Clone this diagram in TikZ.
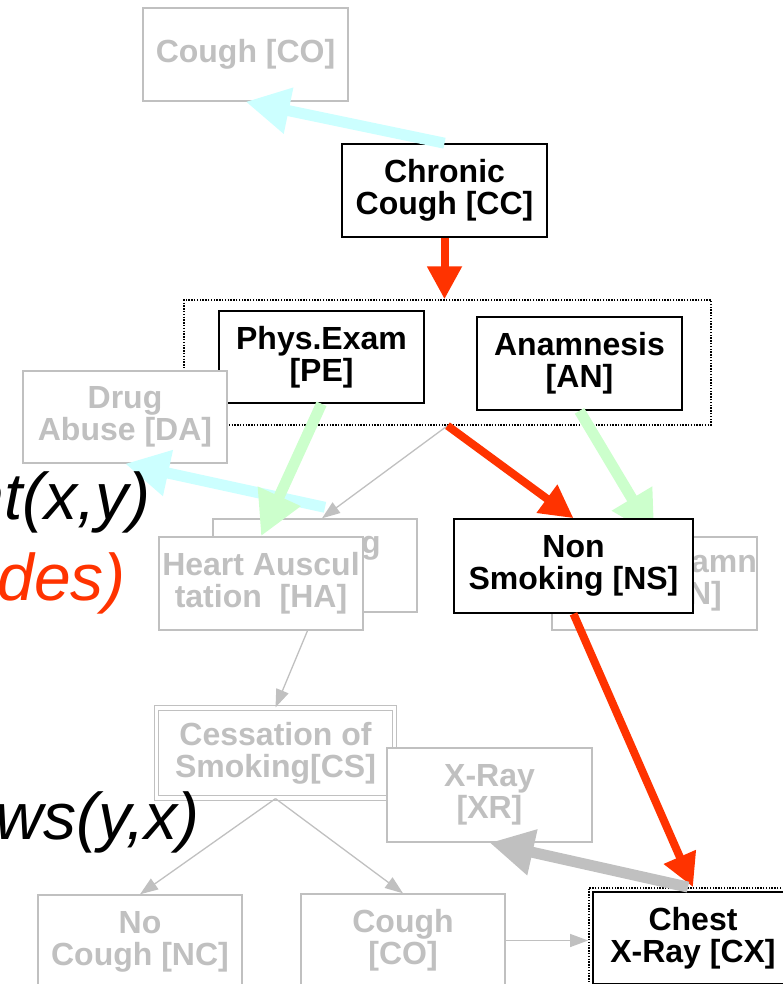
\documentclass[tikz,border=0pt]{standalone}
\usepackage{fontspec}
\setmainfont{Liberation Sans}
\usetikzlibrary{arrows,arrows.meta}
\usetikzlibrary{fit}
\definecolor{fadegray}{HTML}{C0C0C0}
\definecolor{pathred}{HTML}{FF3300}
\definecolor{palecyan}{HTML}{CCFFFF}
\definecolor{palegreen}{HTML}{CCFFCC}
\tikzset{
    nodebox/.style={rectangle, fill=white, inner sep=0pt, align=center,
        minimum width=205pt, minimum height=93pt,
        font=\bfseries\fontsize{32}{32}\selectfont},
    offbox/.style={nodebox, draw=fadegray, text=fadegray, line width=1.4pt},
    onbox/.style={nodebox, draw=black, text=black, line width=1.6pt},
    groupbox/.style={draw=black, line width=1.4pt, dash pattern=on 1.4pt off 1.4pt},
    faint/.style={draw=fadegray, line width=1.3pt, -{Triangle[length=18pt,width=13pt]}},
    fatarrow/.style={draw=#1, line width=11pt, -{Triangle[length=44pt,width=44pt]}},
    redarrow/.style={draw=pathred, line width=8pt, -{Triangle[length=33pt,width=33pt]}},
    remark/.style={inner sep=0pt, anchor=base east, font=\itshape\fontsize{66}{66}\selectfont}
}

\begin{document}
\begin{tikzpicture}[x=1pt, y=-1pt]
    \useasboundingbox (0,0) rectangle (783,984);
    \clip (0,0) rectangle (783,984);
    % group of the two tests
    \node[groupbox, minimum width=527pt, minimum height=125pt] (grp) at (447.5,362.5) {};
    \node[offbox] (co1) at (245.5,54.5) {Cough [CO]};
    \node[onbox] (cc) at (444.5,190.5) {Chronic\\Cough [CC]};
    \node[onbox, minimum height=92pt] (pe) at (321.5,357) {Phys.Exam\\{[PE]}};
    \node[onbox] (an) at (579.5,363.5) {Anamnesis\\{[AN]}};
    \node[offbox, minimum width=204pt, minimum height=92pt] (da) at (125,417) {Drug\\Abuse [DA]};
    % boxes lying behind others
    \node[offbox, minimum width=204pt] (hsm) at (315,565.5) {\hspace*{112pt}g\\\strut};
    \node[offbox] (han) at (654.5,583.5) {\hspace*{139pt}amn\\\hspace*{101pt}N]};
    \node[offbox, double, double distance=3.5pt, line width=1.2pt,
        minimum width=238pt, minimum height=90pt] (cs) at (275.5,753) {Cessation of\\Smoking[CS]};
    \node[offbox, minimum height=94pt] (xr) at (489.5,795) {X-Ray\\{[XR]}};
    \node[offbox, minimum width=204pt] (nc) at (140,941.5) {No\\Cough [NC]};
    \node[offbox, minimum width=204pt] (co2) at (403,940.5) {Cough\\{[CO]}};
    \node[onbox, line width=2.4pt, minimum width=200pt, minimum height=92pt] (cx) at (693,938) {Chest\\X-Ray [CX]};
    \node[groupbox, fit=(cx), inner sep=3pt] (cxf) {};

    \draw[fatarrow=palecyan] (cc.north) -- (co1.south);
    \draw[fatarrow=palecyan] ([shift={(10,-11)}]hsm.north) -- (da.south);
    \draw[faint] (grp.south) -- ([xshift=7pt]hsm.north);
    \draw[faint] (hsm.south) -- (cs.north);
    \node[offbox, minimum width=204pt] (ha) at (261,583.5) {Heart Auscul\\tation~ [HA]};
    \draw[fatarrow=palegreen] (pe.south) -- (ha.north);
    \draw[fatarrow=palegreen] (an.south) -- (han.north);
    \node[onbox, minimum width=239pt, minimum height=94pt] (ns) at (573.5,566) {Non\\Smoking [NS]};

    \draw[redarrow] (cc.south) -- (cc.south |- grp.north);
    \draw[redarrow] (grp.south) -- (ns.north);
    \draw[redarrow] (ns.south) -- (cxf.north);
    \draw[fatarrow=fadegray] ([xshift=-5pt]cxf.north) -- (xr.south);
    \draw[faint] (cs.south) -- (nc.north);
    \draw[faint] (cs.south) -- (co2.north);
    \draw[faint] (co2.east) -- (co2.east -| cxf.west);

    % notes at the left border
    \node[remark] (nt) at (151,519) {nt(x,y)};
    \node[remark, text=pathred] (des) at (126,600) {des)};
    \node[remark] (ws) at (200,839) {ws(y,x)};
\end{tikzpicture}
\end{document}
